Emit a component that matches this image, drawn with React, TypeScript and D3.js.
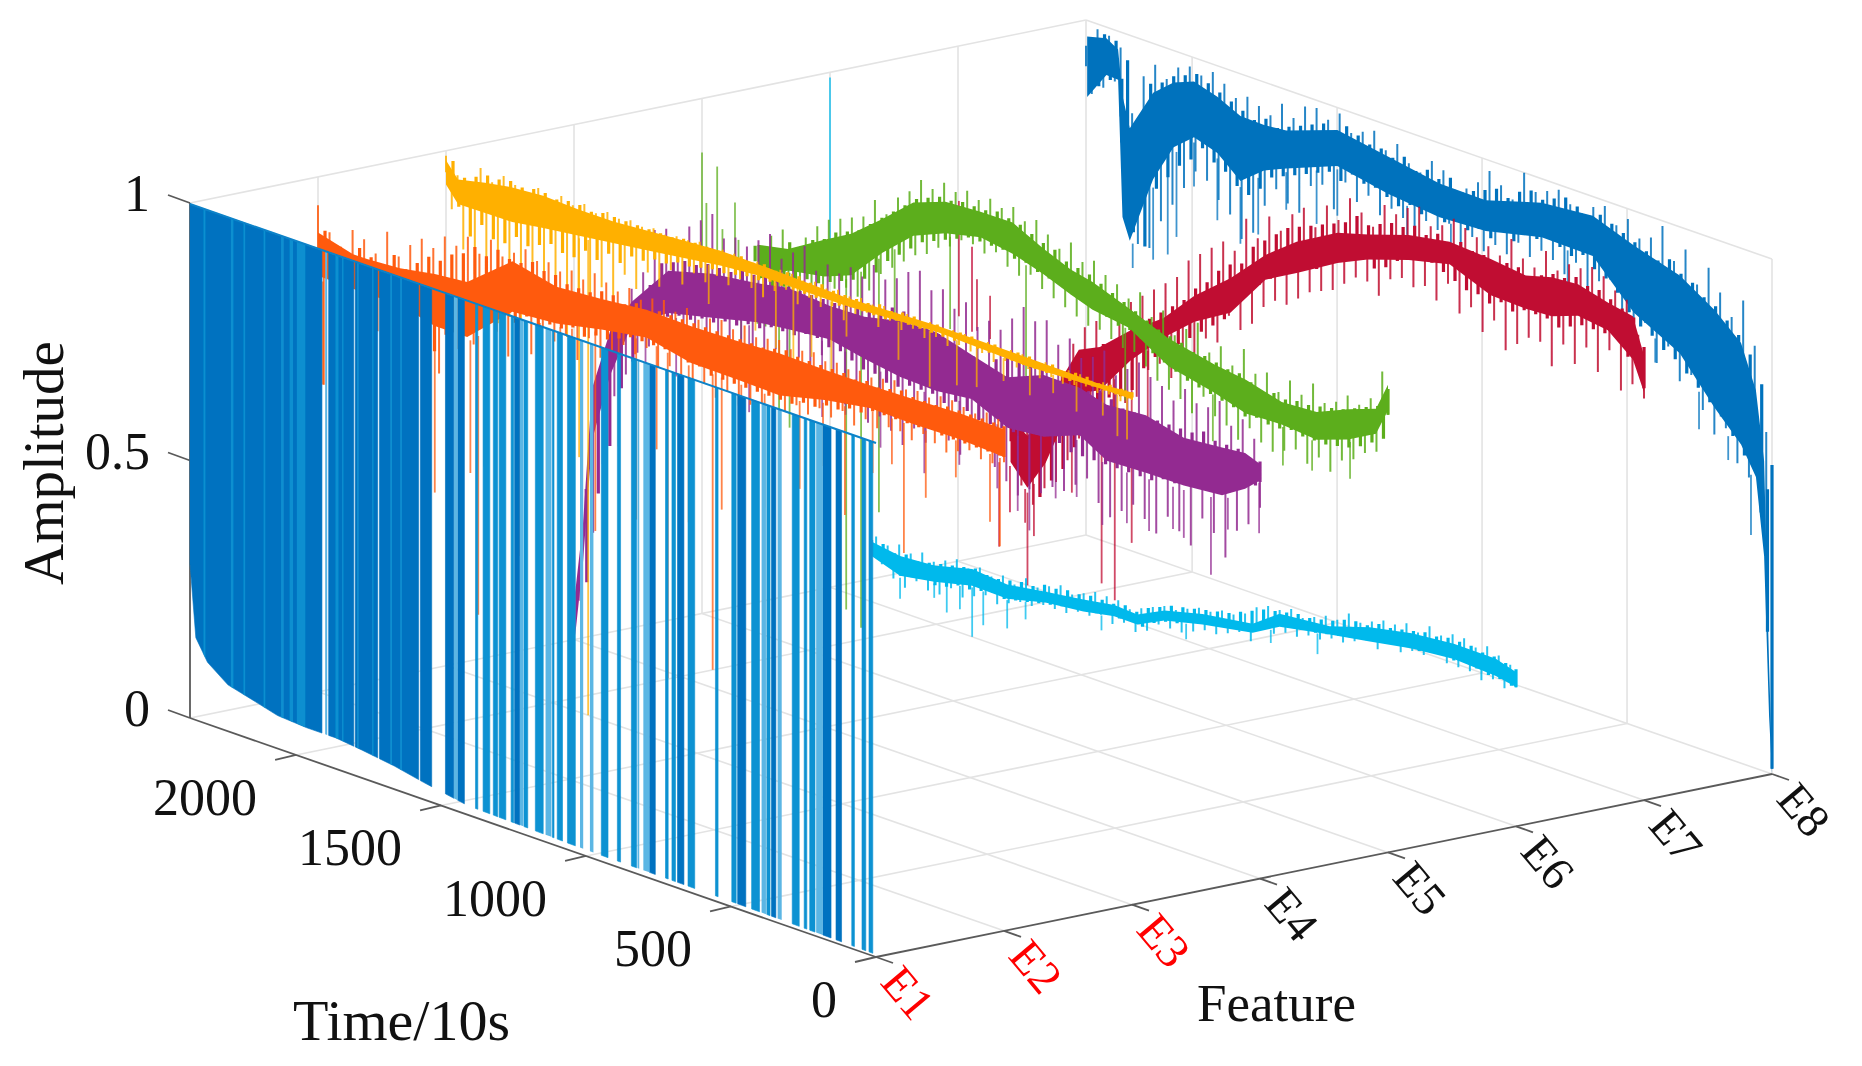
import React from 'react';
import * as d3 from 'd3';

// readings were taken against a 0..2350 run of the time axis, tick labels use 0..2366
const READ_MAX = 2350;
const AXIS_MAX = 2366;

const featureLabels = ['E1', 'E2', 'E3', 'E4', 'E5', 'E6', 'E7', 'E8'];
const featureLabelColors = ['#ff0000', '#ff0000', '#ff0000', '#111', '#111', '#111', '#111', '#111'];
const timeTicks = [0, 500, 1000, 1500, 2000];
const ampTicks = [0, 0.5, 1];

// E1: time ranges where the trace falls from 1 to the floor
const e1DarkRuns = [[1898, 2350], [1789, 1875], [1707, 1784], [1567, 1701], [1522, 1561], [1446, 1475], [1410, 1433], [1220, 1238], [756, 776], [658, 680], [446, 474], [343, 358], [154, 182], [118, 137]];
const e1MidRuns = [[1364, 1372], [1323, 1346], [1296, 1311], [1268, 1291], [1241, 1250], [1193, 1206], [1140, 1167], [1103, 1109], [1074, 1092], [1030, 1057], [918, 941], [875, 886], [820, 838], [712, 721], [687, 699], [621, 644], [541, 550], [479, 494], [399, 426], [363, 374], [263, 287], [237, 246], [209, 227], [74, 83], [35, 48], [11, 24]];
const e1LightRuns = [[1880, 1887], [1433, 1446], [1208, 1220], [1112, 1132], [1003, 1014], [968, 980], [811, 817], [776, 797], [377, 392], [323, 337], [182, 205]];
const e1Stripes = [[2297, 2304], [2201, 2210], [2161, 2167], [2092, 2098], [2029, 2038], [1997, 2009], [1955, 1984], [1841, 1852], [1824, 1829], [1772, 1778], [1721, 1726], [1658, 1664], [1624, 1630]];
const e1FloorTimes = [2350, 2330, 2290, 2220, 2140, 2050, 1950, 1850, 1760, 1650, 1550, 1400, 1000, 500, 0];
const e1Floor = [0.3, 0.16, 0.12, 0.09, 0.078, 0.064, 0.06, 0.06, 0.054, 0.045, 0.033, 0.018, 0.012, 0.01, 0.005];

const e2Times = [2350, 2230, 2182, 2069, 1950, 1839, 1684, 1533, 1379, 1225, 1074, 919, 768, 614, 460, 309, 154, 0];
const e2Upper = [0.9, 0.88, 0.88, 0.885, 0.9, 0.907, 0.977, 0.955, 0.96, 0.969, 0.969, 0.972, 0.977, 0.974, 0.973, 0.976, 0.98, 0.979];
const e2Lower = [0.8, 0.8, 0.8, 0.8, 0.78, 0.78, 0.86, 0.87, 0.89, 0.905, 0.884, 0.883, 0.88, 0.904, 0.92, 0.918, 0.92, 0.915];
const e2Tips = [
  0.945, 0.6, 0.9, 0.78, 0.88, 0.8, 0.92, 0.75, 0.91, 0.62,
  0.89, 0.7, 0.94, 0.62, 0.9, 0.78, 0.93, 0.7, 0.95, 0.64,
  0.94, 0.7, 0.97, 0.66, 0.96, 0.74, 0.985, 0.78, 0.96, 0.8,
  0.995, 0.82, 0.97, 0.78, 0.985, 0.84, 1, 0.8, 0.985, 0.86,
  0.99, 0.84, 0.98, 0.86, 0.99, 0.82, 0.98, 0.87, 1, 0.84,
  0.99, 0.86, 0.98, 0.88, 0.995, 0.87, 0.98, 0.89, 0.99, 0.86,
  0.995, 0.87, 0.98, 0.84, 0.995, 0.85, 0.98, 0.86, 0.99, 0.84,
  0.995, 0.86, 0.985, 0.84, 1, 0.85, 0.985, 0.86, 0.99, 0.83,
  0.995, 0.86, 0.985, 0.88, 0.99, 0.87, 0.995, 0.89, 0.985, 0.88,
  0.99, 0.9, 0.985, 0.88, 0.99, 0.9, 0.985, 0.89, 0.99, 0.9,
  0.995, 0.9, 0.985, 0.89, 0.99, 0.91, 0.985, 0.9, 0.995, 0.89,
  0.995, 0.9, 0.99, 0.91, 0.985, 0.9, 0.995, 0.9, 0.99, 0.91,
];
const e2Fine = [
  0.9, 0.72, 0.88, 0.8, 0.87, 0.82, 0.89, 0.78, 0.88, 0.74,
  0.87, 0.76, 0.9, 0.72, 0.88, 0.8, 0.9, 0.76, 0.92, 0.74,
  0.92, 0.78, 0.94, 0.76, 0.95, 0.8, 0.97, 0.84, 0.96, 0.84,
  0.98, 0.86, 0.97, 0.85, 0.97, 0.87, 0.98, 0.86, 0.97, 0.87,
  0.97, 0.87, 0.96, 0.88, 0.96, 0.87, 0.96, 0.88, 0.97, 0.88,
  0.97, 0.89, 0.96, 0.9, 0.97, 0.9, 0.96, 0.9, 0.97, 0.9,
  0.97, 0.9, 0.97, 0.89, 0.97, 0.89, 0.97, 0.88, 0.97, 0.88,
  0.97, 0.88, 0.97, 0.88, 0.97, 0.88, 0.97, 0.88, 0.975, 0.88,
  0.98, 0.88, 0.975, 0.89, 0.975, 0.89, 0.975, 0.9, 0.975, 0.9,
  0.975, 0.91, 0.97, 0.91, 0.975, 0.92, 0.97, 0.92, 0.975, 0.92,
  0.98, 0.92, 0.975, 0.92, 0.975, 0.925, 0.975, 0.92, 0.98, 0.92,
  0.98, 0.92, 0.98, 0.92, 0.98, 0.92, 0.98, 0.92, 0.98, 0.92,
];
const e2Dips = [[343, 0.666], [268, 0.788], [165, 0.848], [48, 0.785], [14, 0.744], [384, 0.83], [545, 0.7], [967, 0.627], [1152, 0.263], [998, 0.31], [1520, 0.318], [1880, 0.185], [1801, 0.258], [1950, 0.466], [1828, 0.528], [2333, 0.6], [1260, 0.55], [1400, 0.5], [1660, 0.4], [820, 0.66], [1080, 0.58], [700, 0.72], [1900, 0.5], [1780, 0.55], [1720, 0.62], [1590, 0.6], [1480, 0.66], [1320, 0.68], [1190, 0.7], [900, 0.74], [620, 0.78], [450, 0.8]];

const e3Times = [2350, 2309, 2216, 2123, 2017, 1894, 1774, 1650, 1527, 1407, 1283, 978, 669, 364, 120, 0];
const e3Upper = [0.986, 0.957, 0.97, 0.98, 0.984, 0.98, 0.98, 0.985, 0.99, 0.994, 0.993, 0.987, 0.994, 0.993, 0.99, 0.996];
const e3Lower = [0.93, 0.9, 0.9, 0.9, 0.91, 0.92, 0.93, 0.94, 0.95, 0.96, 0.967, 0.968, 0.979, 0.973, 0.98, 0.98];
const e3Tips = [
  0.99, 0.89, 0.96, 0.82, 0.94, 0.78, 0.99, 0.74, 0.97, 0.7,
  0.99, 0.72, 0.98, 0.7, 0.96, 0.78, 0.99, 0.76, 0.97, 0.74,
  0.99, 0.72, 0.98, 0.8, 0.99, 0.76, 0.98, 0.84, 0.99, 0.8,
  0.985, 0.88, 0.99, 0.86, 0.985, 0.9, 0.99, 0.88, 0.985, 0.92,
  0.99, 0.9, 0.99, 0.93, 0.995, 0.92, 0.99, 0.94, 0.995, 0.93,
  0.995, 0.95, 0.99, 0.94, 0.995, 0.93, 0.99, 0.95, 0.995, 0.96,
  0.995, 0.94, 0.99, 0.96, 0.995, 0.95, 0.99, 0.96, 0.995, 0.94,
  0.99, 0.96, 0.995, 0.97, 0.99, 0.95, 0.995, 0.97, 0.99, 0.96,
  0.995, 0.97, 0.99, 0.96, 0.995, 0.97, 0.99, 0.96, 0.995, 0.97,
  0.995, 0.965, 0.99, 0.97, 0.995, 0.96, 0.99, 0.97, 0.995, 0.965,
  0.995, 0.97, 0.99, 0.96, 0.995, 0.97, 0.99, 0.965, 0.995, 0.97,
  0.995, 0.975, 0.99, 0.97, 0.995, 0.975, 0.99, 0.97, 0.995, 0.98,
];
const e3Fine = [
  0.985, 0.9, 0.96, 0.85, 0.97, 0.88, 0.98, 0.86, 0.98, 0.86,
  0.985, 0.88, 0.98, 0.87, 0.985, 0.88, 0.985, 0.89, 0.98, 0.88,
  0.985, 0.88, 0.985, 0.9, 0.98, 0.89, 0.985, 0.91, 0.985, 0.9,
  0.985, 0.92, 0.985, 0.92, 0.985, 0.93, 0.985, 0.93, 0.985, 0.94,
  0.99, 0.94, 0.99, 0.945, 0.99, 0.95, 0.99, 0.95, 0.99, 0.955,
  0.995, 0.96, 0.99, 0.96, 0.995, 0.965, 0.99, 0.965, 0.995, 0.965,
  0.995, 0.965, 0.99, 0.965, 0.995, 0.97, 0.99, 0.965, 0.99, 0.97,
  0.99, 0.97, 0.99, 0.97, 0.995, 0.97, 0.99, 0.975, 0.995, 0.975,
  0.995, 0.975, 0.99, 0.975, 0.995, 0.975, 0.99, 0.975, 0.995, 0.98,
  0.995, 0.975, 0.99, 0.975, 0.995, 0.98, 0.99, 0.975, 0.995, 0.975,
  0.995, 0.975, 0.99, 0.975, 0.995, 0.98, 0.99, 0.975, 0.995, 0.98,
  0.995, 0.98, 0.99, 0.98, 0.995, 0.98, 0.995, 0.98, 0.995, 0.985,
];
const e3Dips = [[1863, 0], [1894, 0.495], [1160, 0.815], [693, 0.869], [532, 0.9], [350, 0.92], [978, 0.91], [1098, 0.847], [1290, 0.86], [1450, 0.88], [1030, 0.83], [1220, 0.84], [800, 0.9], [600, 0.89], [440, 0.93], [270, 0.94], [190, 0.92], [100, 0.93], [50, 0.9], [17, 0.9]];

const e4Times = [2346, 2319, 2288, 2226, 2151, 2027, 1877, 1722, 1616, 1475, 1355, 1232, 1108, 988, 865, 741, 618, 525, 391, 261, 130, 51, 0];
const e4Upper = [0.1, 0.24, 0.51, 0.632, 0.7, 0.788, 0.812, 0.823, 0.836, 0.827, 0.831, 0.85, 0.853, 0.83, 0.812, 0.843, 0.84, 0.827, 0.833, 0.813, 0.82, 0.823, 0.808];
const e4Lower = [0, 0.15, 0.39, 0.53, 0.648, 0.69, 0.71, 0.733, 0.74, 0.75, 0.734, 0.72, 0.717, 0.728, 0.695, 0.7, 0.73, 0.697, 0.7, 0.703, 0.71, 0.74, 0.77];
const e4Tips = [
  0.05, 0.1, 0.3, 0.2, 0.52, 0.36, 0.6, 0.5, 0.66, 0.55,
  0.72, 0.6, 0.76, 0.62, 0.85, 0.66, 0.86, 0.68, 0.84, 0.66,
  0.88, 0.64, 0.9, 0.66, 0.92, 0.66, 0.88, 0.68, 0.89, 0.67,
  0.88, 0.68, 0.9, 0.66, 0.92, 0.7, 0.88, 0.66, 0.9, 0.7,
  0.92, 0.68, 0.88, 0.72, 0.9, 0.68, 0.89, 0.64, 0.91, 0.66,
  0.9, 0.62, 0.93, 0.64, 0.91, 0.62, 0.92, 0.6, 0.94, 0.64,
  0.95, 0.62, 0.92, 0.66, 0.93, 0.64, 0.9, 0.62, 0.92, 0.66,
  0.88, 0.66, 0.9, 0.62, 0.89, 0.6, 0.92, 0.58, 0.95, 0.6,
  0.93, 0.6, 0.94, 0.62, 0.9, 0.62, 0.92, 0.64, 0.89, 0.66,
  0.9, 0.62, 0.92, 0.6, 0.88, 0.62, 0.9, 0.64, 0.92, 0.62,
  0.9, 0.6, 0.89, 0.64, 0.87, 0.62, 0.9, 0.6, 0.88, 0.66,
  0.88, 0.64, 0.9, 0.6, 0.86, 0.66, 0.88, 0.68, 0.85, 0.72,
];
const e4Fine = [
  0.08, 0.12, 0.22, 0.3, 0.48, 0.4, 0.58, 0.52, 0.64, 0.58,
  0.69, 0.64, 0.74, 0.66, 0.79, 0.69, 0.8, 0.7, 0.81, 0.7,
  0.81, 0.71, 0.82, 0.71, 0.82, 0.72, 0.82, 0.72, 0.83, 0.73,
  0.83, 0.73, 0.84, 0.74, 0.84, 0.74, 0.83, 0.74, 0.83, 0.75,
  0.83, 0.75, 0.83, 0.74, 0.83, 0.74, 0.84, 0.73, 0.84, 0.72,
  0.85, 0.72, 0.85, 0.71, 0.86, 0.71, 0.86, 0.72, 0.85, 0.72,
  0.85, 0.72, 0.84, 0.71, 0.83, 0.72, 0.82, 0.71, 0.82, 0.7,
  0.81, 0.7, 0.83, 0.7, 0.84, 0.7, 0.84, 0.71, 0.84, 0.72,
  0.84, 0.72, 0.83, 0.71, 0.83, 0.7, 0.83, 0.7, 0.83, 0.7,
  0.84, 0.7, 0.83, 0.7, 0.82, 0.7, 0.82, 0.7, 0.81, 0.7,
  0.82, 0.71, 0.82, 0.71, 0.82, 0.72, 0.82, 0.72, 0.83, 0.74,
  0.82, 0.74, 0.82, 0.74, 0.82, 0.75, 0.81, 0.76, 0.81, 0.77,
];
const e4Dips = [[3, 0.67], [168, 0.557], [261, 0.61], [298, 0.62], [456, 0.6], [628, 0.617], [110, 0.656], [700, 0.6], [900, 0.58], [1150, 0.56], [1300, 0.58], [1500, 0.6], [1750, 0.56], [2000, 0.58], [790, 0.52], [2105, 0.4], [380, 0.6], [540, 0.58], [830, 0.55], [1030, 0.6], [1420, 0.62]];

const e5Times = [2160, 2055, 1931, 1839, 1732, 1626, 1516, 1396, 1286, 1180, 1087, 1012, 888, 751, 593, 487, 364, 244, 137, 41, 0];
const e5Upper = [0.76, 0.77, 0.815, 0.846, 0.894, 0.947, 0.97, 0.973, 0.975, 0.944, 0.922, 0.913, 0.885, 0.855, 0.835, 0.828, 0.807, 0.812, 0.839, 0.858, 0.913];
const e5Lower = [0.68, 0.72, 0.73, 0.75, 0.816, 0.87, 0.897, 0.914, 0.903, 0.885, 0.864, 0.849, 0.84, 0.79, 0.77, 0.75, 0.755, 0.748, 0.769, 0.8, 0.854];
const e5Tips = [
  0.895, 0.71, 0.8, 0.72, 0.88, 0.72, 0.76, 0.71, 0.82, 0.68,
  0.74, 0.6, 0.78, 0.62, 0.8, 0.66, 0.77, 0.68, 0.8, 0.7,
  0.83, 0.7, 0.85, 0.72, 0.86, 0.73, 0.87, 0.72, 0.88, 0.74,
  0.92, 0.78, 0.9, 0.8, 0.94, 0.82, 0.96, 0.84, 0.99, 0.85,
  0.98, 0.87, 1, 0.88, 0.99, 0.9, 1, 0.9, 0.99, 0.89,
  1, 0.9, 0.99, 0.88, 1, 0.87, 0.98, 0.88, 0.99, 0.86,
  0.97, 0.85, 0.95, 0.84, 0.97, 0.83, 0.94, 0.82, 0.95, 0.82,
  0.93, 0.81, 0.92, 0.8, 0.9, 0.8, 0.92, 0.78, 0.88, 0.76,
  0.9, 0.75, 0.86, 0.74, 0.88, 0.72, 0.9, 0.76, 0.85, 0.73,
  0.87, 0.72, 0.84, 0.7, 0.88, 0.73, 0.84, 0.71, 0.85, 0.7,
  0.82, 0.71, 0.85, 0.72, 0.83, 0.7, 0.86, 0.72, 0.83, 0.7,
  0.84, 0.73, 0.86, 0.74, 0.85, 0.76, 0.87, 0.77, 0.93, 0.85,
];
const e5Fine = [
  0.8, 0.72, 0.78, 0.72, 0.79, 0.71, 0.76, 0.71, 0.75, 0.7,
  0.74, 0.68, 0.76, 0.69, 0.78, 0.71, 0.78, 0.72, 0.8, 0.72,
  0.81, 0.73, 0.83, 0.74, 0.84, 0.75, 0.85, 0.76, 0.87, 0.78,
  0.89, 0.81, 0.91, 0.83, 0.93, 0.85, 0.95, 0.87, 0.96, 0.88,
  0.97, 0.89, 0.97, 0.9, 0.975, 0.91, 0.975, 0.91, 0.975, 0.91,
  0.98, 0.91, 0.975, 0.9, 0.97, 0.9, 0.96, 0.89, 0.95, 0.885,
  0.945, 0.88, 0.93, 0.87, 0.925, 0.865, 0.92, 0.855, 0.91, 0.85,
  0.9, 0.84, 0.89, 0.84, 0.88, 0.83, 0.87, 0.81, 0.86, 0.8,
  0.855, 0.79, 0.85, 0.78, 0.84, 0.775, 0.84, 0.77, 0.835, 0.765,
  0.83, 0.76, 0.83, 0.75, 0.82, 0.755, 0.81, 0.75, 0.815, 0.75,
  0.81, 0.755, 0.815, 0.75, 0.815, 0.75, 0.82, 0.75, 0.825, 0.755,
  0.83, 0.76, 0.84, 0.77, 0.85, 0.785, 0.86, 0.8, 0.9, 0.85,
];
const e5Dips = [[2350, 0.895, 0.71], [2335, 0.8, 0.71], [2298, 0.878, 0.716], [2280, 0.76, 0.71], [2237, 0.82, 0.715], [2225, 0.75, 0.7], [2216, 0.7, 0.48], [2160, 0.6], [2086, 0.34], [2050, 0.42], [1856, 0.105], [1805, 0.08], [1744, 0.316], [1690, 0.6], [1500, 0.72], [1240, 0.68], [900, 0.7], [600, 0.68], [360, 0.68], [260, 0.69], [130, 0.7]];

const e6Times = [2215, 2110, 1993, 1863, 1743, 1612, 1482, 1376, 1297, 1204, 1074, 902, 810, 638, 501, 357, 213, 69, 3];
const e6Upper = [0.12, 0.112, 0.116, 0.135, 0.128, 0.139, 0.15, 0.16, 0.157, 0.183, 0.202, 0.217, 0.255, 0.264, 0.29, 0.307, 0.315, 0.315, 0.303];
const e6Lower = [0.088, 0.066, 0.078, 0.096, 0.095, 0.114, 0.122, 0.134, 0.134, 0.16, 0.178, 0.196, 0.225, 0.245, 0.257, 0.272, 0.28, 0.275, 0.268];
const e6Tips = [
  0.99, 0.3, 0.16, 0.1, 0.15, 0.09, 0.14, 0.08, 0.13, 0.08,
  0.12, 0.06, 0.13, 0.05, 0.12, 0.07, 0.13, 0.06, 0.12, 0.06,
  0.13, 0.08, 0.14, 0.07, 0.13, 0.08, 0.14, 0.09, 0.13, 0.08,
  0.14, 0.09, 0.13, 0.1, 0.15, 0.1, 0.14, 0.11, 0.15, 0.11,
  0.16, 0.11, 0.15, 0.12, 0.16, 0.12, 0.17, 0.13, 0.17, 0.12,
  0.17, 0.13, 0.16, 0.12, 0.17, 0.13, 0.18, 0.15, 0.19, 0.15,
  0.19, 0.15, 0.2, 0.16, 0.21, 0.17, 0.21, 0.17, 0.22, 0.18,
  0.22, 0.19, 0.23, 0.18, 0.25, 0.21, 0.26, 0.21, 0.26, 0.22,
  0.27, 0.22, 0.26, 0.23, 0.27, 0.23, 0.28, 0.24, 0.28, 0.24,
  0.3, 0.25, 0.29, 0.26, 0.3, 0.25, 0.31, 0.27, 0.31, 0.26,
  0.32, 0.27, 0.31, 0.27, 0.33, 0.28, 0.32, 0.27, 0.33, 0.27,
  0.33, 0.27, 0.32, 0.26, 0.33, 0.27, 0.32, 0.26, 0.31, 0.27,
];
const e6Fine = [
  0.13, 0.1, 0.13, 0.1, 0.12, 0.09, 0.12, 0.09, 0.12, 0.085,
  0.11, 0.07, 0.115, 0.075, 0.11, 0.08, 0.115, 0.075, 0.12, 0.08,
  0.125, 0.09, 0.13, 0.09, 0.135, 0.095, 0.13, 0.1, 0.13, 0.095,
  0.135, 0.1, 0.14, 0.105, 0.14, 0.11, 0.15, 0.115, 0.15, 0.12,
  0.155, 0.125, 0.155, 0.13, 0.16, 0.13, 0.16, 0.135, 0.16, 0.135,
  0.165, 0.14, 0.16, 0.135, 0.175, 0.15, 0.185, 0.16, 0.195, 0.165,
  0.2, 0.175, 0.205, 0.18, 0.21, 0.185, 0.215, 0.19, 0.22, 0.195,
  0.23, 0.2, 0.24, 0.21, 0.25, 0.225, 0.255, 0.23, 0.26, 0.235,
  0.265, 0.24, 0.265, 0.24, 0.27, 0.245, 0.275, 0.25, 0.285, 0.255,
  0.29, 0.26, 0.29, 0.265, 0.3, 0.27, 0.3, 0.275, 0.305, 0.28,
  0.31, 0.275, 0.315, 0.28, 0.315, 0.285, 0.32, 0.28, 0.32, 0.285,
  0.32, 0.28, 0.315, 0.275, 0.315, 0.275, 0.31, 0.27, 0.305, 0.27,
];
const e6Dips = [[2350, 0.99, 0.6], [2110, 0.025], [1993, 0.05], [1863, 0], [1825, 0.03], [1743, 0.04], [1950, 0.03], [1905, 0.045], [1680, 0.07], [1420, 0.1], [1130, 0.14], [840, 0.19], [680, 0.2]];

const e7Times = [2170, 2112, 2050, 1990, 1936, 1864, 1760, 1647, 1540, 1417, 1297, 1190, 1050, 947, 806, 666, 525, 405, 316, 226, 124, 38, 0];
const e7Upper = [0.32, 0.3, 0.36, 0.44, 0.5, 0.52, 0.57, 0.614, 0.68, 0.74, 0.807, 0.855, 0.9, 0.916, 0.943, 0.957, 0.954, 0.945, 0.96, 0.963, 0.947, 0.94, 0.87];
const e7Lower = [0.22, 0.18, 0.24, 0.33, 0.4, 0.42, 0.5, 0.569, 0.62, 0.66, 0.75, 0.783, 0.83, 0.858, 0.885, 0.905, 0.87, 0.868, 0.87, 0.89, 0.883, 0.84, 0.785];
const e7Tips = [
  0.7, 0.5, 0.62, 0.46, 0.55, 0.44, 0.54, 0.3, 0.36, 0.2,
  0.34, 0.19, 0.33, 0.16, 0.37, 0.2, 0.4, 0.22, 0.44, 0.27,
  0.5, 0.32, 0.54, 0.36, 0.56, 0.4, 0.52, 0.38, 0.58, 0.42,
  0.62, 0.44, 0.64, 0.5, 0.66, 0.52, 0.68, 0.5, 0.7, 0.55,
  0.74, 0.56, 0.76, 0.6, 0.78, 0.6, 0.8, 0.66, 0.79, 0.64,
  0.86, 0.66, 0.83, 0.7, 0.88, 0.72, 0.86, 0.72, 0.9, 0.74,
  0.92, 0.76, 0.89, 0.77, 0.94, 0.78, 0.92, 0.8, 0.97, 0.82,
  0.95, 0.82, 0.93, 0.8, 0.98, 0.84, 0.97, 0.85, 0.99, 0.84,
  1, 0.85, 0.97, 0.83, 0.98, 0.87, 1, 0.82, 0.99, 0.84,
  0.98, 0.8, 0.97, 0.83, 0.96, 0.78, 1, 0.8, 0.97, 0.82,
  0.96, 0.82, 1, 0.78, 0.97, 0.83, 0.99, 0.8, 0.99, 0.84,
  1, 0.8, 0.99, 0.85, 0.97, 0.78, 0.96, 0.8, 0.9, 0.78,
];
const e7Fine = [
  0.5, 0.46, 0.48, 0.44, 0.46, 0.42, 0.4, 0.3, 0.32, 0.22,
  0.32, 0.2, 0.31, 0.18, 0.34, 0.22, 0.38, 0.25, 0.42, 0.3,
  0.47, 0.35, 0.5, 0.38, 0.52, 0.42, 0.53, 0.43, 0.55, 0.45,
  0.58, 0.5, 0.6, 0.53, 0.62, 0.56, 0.64, 0.57, 0.66, 0.59,
  0.69, 0.61, 0.71, 0.63, 0.74, 0.65, 0.76, 0.69, 0.77, 0.72,
  0.81, 0.74, 0.83, 0.76, 0.85, 0.78, 0.87, 0.79, 0.88, 0.8,
  0.89, 0.81, 0.9, 0.83, 0.91, 0.84, 0.92, 0.85, 0.94, 0.86,
  0.93, 0.85, 0.94, 0.86, 0.95, 0.88, 0.95, 0.89, 0.96, 0.9,
  0.95, 0.9, 0.96, 0.89, 0.95, 0.88, 0.96, 0.87, 0.95, 0.87,
  0.95, 0.86, 0.94, 0.87, 0.95, 0.86, 0.95, 0.87, 0.94, 0.87,
  0.95, 0.87, 0.96, 0.86, 0.96, 0.87, 0.97, 0.88, 0.96, 0.88,
  0.96, 0.88, 0.95, 0.88, 0.94, 0.85, 0.93, 0.84, 0.88, 0.8,
];
const e7Dips = [[2347, 0.7, 0.476], [2302, 0.62, 0.455], [2285, 0.56, 0.46], [2240, 0.537, 0.453], [2209, 0.056], [2112, 0], [1858, 0.054], [1813, 0.03], [1755, 0.153], [2090, 0.1], [1960, 0.21], [1700, 0.35], [2172, 0.13], [2120, 0.12]];

const e8Times = [2346, 2280, 2240, 2225, 2200, 2120, 2050, 1980, 1900, 1821, 1740, 1664, 1489, 1314, 1139, 981, 789, 614, 473, 316, 196, 106, 55, 27, 10, 0];
const e8Upper = [0.98, 0.985, 0.97, 0.9, 0.84, 0.92, 0.95, 0.964, 0.95, 0.93, 0.925, 0.928, 0.963, 0.946, 0.928, 0.926, 0.96, 0.97, 0.945, 0.92, 0.88, 0.835, 0.75, 0.62, 0.22, 0.02];
const e8Lower = [0.84, 0.9, 0.9, 0.62, 0.58, 0.72, 0.8, 0.835, 0.82, 0.78, 0.82, 0.84, 0.88, 0.86, 0.85, 0.855, 0.88, 0.877, 0.79, 0.74, 0.654, 0.6, 0.55, 0.4, 0.1, 0];
const e8Tips = [
  0.95, 0.86, 0.99, 0.88, 0.985, 0.9, 0.97, 0.7, 0.85, 0.6,
  0.93, 0.6, 0.96, 0.66, 0.94, 0.7, 0.97, 0.74, 0.98, 0.78,
  0.97, 0.77, 0.985, 0.74, 0.97, 0.72, 0.95, 0.68, 0.96, 0.7,
  0.95, 0.76, 0.94, 0.8, 0.97, 0.78, 0.95, 0.77, 0.98, 0.83,
  0.985, 0.84, 0.97, 0.8, 0.99, 0.86, 0.96, 0.83, 0.97, 0.85,
  0.98, 0.82, 0.95, 0.84, 0.97, 0.83, 0.94, 0.82, 0.93, 0.84,
  0.96, 0.83, 0.95, 0.85, 0.92, 0.8, 0.93, 0.84, 0.95, 0.82,
  0.98, 0.84, 0.96, 0.83, 0.94, 0.86, 1, 0.84, 0.97, 0.86,
  0.98, 0.85, 0.99, 0.83, 0.97, 0.86, 0.96, 0.82, 0.98, 0.84,
  0.99, 0.85, 0.96, 0.8, 0.98, 0.76, 0.95, 0.79, 0.96, 0.72,
  0.99, 0.76, 0.93, 0.7, 0.96, 0.72, 0.9, 0.66, 0.94, 0.62,
  0.9, 0.64, 0.86, 0.58, 0.9, 0.56, 0.82, 0.5, 0.66, 0.02,
];
const e8Fine = [
  0.97, 0.88, 0.985, 0.9, 0.98, 0.91, 0.95, 0.62, 0.84, 0.6,
  0.92, 0.72, 0.93, 0.75, 0.95, 0.78, 0.96, 0.8, 0.97, 0.83,
  0.96, 0.81, 0.95, 0.8, 0.94, 0.78, 0.93, 0.77, 0.92, 0.79,
  0.93, 0.82, 0.92, 0.83, 0.93, 0.84, 0.94, 0.85, 0.95, 0.86,
  0.96, 0.87, 0.95, 0.86, 0.97, 0.88, 0.96, 0.87, 0.95, 0.87,
  0.95, 0.86, 0.94, 0.85, 0.95, 0.86, 0.93, 0.85, 0.94, 0.86,
  0.93, 0.85, 0.94, 0.86, 0.92, 0.85, 0.93, 0.86, 0.94, 0.85,
  0.95, 0.87, 0.94, 0.86, 0.96, 0.88, 0.97, 0.88, 0.96, 0.89,
  0.97, 0.88, 0.98, 0.87, 0.97, 0.88, 0.96, 0.86, 0.97, 0.85,
  0.96, 0.83, 0.95, 0.8, 0.94, 0.78, 0.93, 0.77, 0.92, 0.75,
  0.93, 0.74, 0.91, 0.72, 0.9, 0.7, 0.88, 0.68, 0.87, 0.66,
  0.85, 0.63, 0.83, 0.6, 0.8, 0.58, 0.75, 0.55, 0.6, 0.3,
];
const e8Dips = [[2190, 0.55], [2120, 0.58], [2070, 0.6], [1980, 0.75], [1821, 0.67], [1900, 0.7], [1664, 0.767], [1489, 0.79], [1250, 0.8], [72, 0.45], [250, 0.62], [400, 0.72], [150, 0.58], [2040, 0.64], [1760, 0.7], [1560, 0.76], [1100, 0.8], [700, 0.8]];

const seriesList = [
  { feature: 8, color: '#0072bd', from: READ_MAX, times: e8Times, upper: e8Upper, lower: e8Lower, tips: e8Tips, fine: e8Fine, dips: e8Dips },
  { feature: 7, color: '#c00a30', from: 2170, times: e7Times, upper: e7Upper, lower: e7Lower, tips: e7Tips, fine: e7Fine, dips: e7Dips },
  { feature: 6, color: '#00b9ec', from: 2212, times: e6Times, upper: e6Upper, lower: e6Lower, tips: e6Tips, fine: e6Fine, dips: e6Dips },
  { feature: 5, color: '#5bae1a', from: 2170, times: e5Times, upper: e5Upper, lower: e5Lower, tips: e5Tips, fine: e5Fine, dips: e5Dips },
  { feature: 4, color: '#932b91', from: READ_MAX, times: e4Times, upper: e4Upper, lower: e4Lower, tips: e4Tips, fine: e4Fine, dips: e4Dips },
  { feature: 3, color: '#ffb000', from: READ_MAX, times: e3Times, upper: e3Upper, lower: e3Lower, tips: e3Tips, fine: e3Fine, dips: e3Dips },
  { feature: 2, color: '#ff5a0c', from: READ_MAX, times: e2Times, upper: e2Upper, lower: e2Lower, tips: e2Tips, fine: e2Fine, dips: e2Dips },
];

const originX = 876;
const originY = 957;

// oblique projection: every axis is a plain linear scale in pixels
const xByFeature = d3.scaleLinear([1, 8], [0, 896]);
const yByFeature = d3.scaleLinear([1, 8], [0, -183]);
const xByTime = d3.scaleLinear([0, AXIS_MAX], [0, -686]);
const yByTime = d3.scaleLinear([0, AXIS_MAX], [0, -239]);
const yByAmp = d3.scaleLinear([0, 1], [0, -515]);
const readToAxis = d3.scaleLinear([0, READ_MAX], [0, AXIS_MAX]);

const px = (feature: number, time: number) => originX + xByFeature(feature) + xByTime(time);
const py = (feature: number, time: number, amp: number) =>
  originY + yByFeature(feature) + yByTime(time) + yByAmp(amp);

const seg = (a: number[], b: number[]) => `M${a[0]},${a[1]}L${b[0]},${b[1]}`;
const pt = (feature: number, time: number, amp: number) => [px(feature, time), py(feature, time, amp)];

const e1FloorAt = d3.scaleLinear(e1FloorTimes, e1Floor);

function runPath(run: number[]) {
  const inner = e1FloorTimes.filter(t => t < run[1] && t > run[0]);
  const ts = [run[1], ...inner, run[0]];
  const area = d3.area<number>()
    .x(t => px(1, readToAxis(t)))
    .y0(t => py(1, readToAxis(t), e1FloorAt(t)))
    .y1(t => py(1, readToAxis(t), 0.998));
  return area(ts) as string;
}

const Trace = ({ s }: { s: typeof seriesList[number] }) => {
  // the solid middle of the band; its rough edges come from the sticks on top
  const inset = 0.08;
  const core = d3.area<number>()
    .x((_, i) => px(s.feature, readToAxis(s.times[i])))
    .y0((_, i) => py(s.feature, readToAxis(s.times[i]), s.lower[i] + inset * (s.upper[i] - s.lower[i])))
    .y1((_, i) => py(s.feature, readToAxis(s.times[i]), s.upper[i] - inset * (s.upper[i] - s.lower[i])));
  const tipTime = d3.scaleLinear([0, s.tips.length - 1], [READ_MAX, 0]);
  const coreLow = d3.scaleLinear(s.times, s.lower).clamp(true);
  const coreHigh = d3.scaleLinear(s.times, s.upper).clamp(true);

  // every reading is a vertical stick from the middle of the band to its tip
  const sticks = (values: number[], shift: number) => {
    const p = d3.path();
    values.forEach((v, i) => {
      const t = Math.max(0, tipTime(i) - shift);
      if (t > s.from) return;
      const a = pt(s.feature, readToAxis(t), (coreLow(t) + coreHigh(t)) / 2);
      const b = pt(s.feature, readToAxis(t), v);
      p.moveTo(a[0], a[1]);
      p.lineTo(b[0], b[1]);
    });
    return p.toString();
  };

  return (
    <g>
      {s.dips.map((d, i) => (
        <path key={i} d={seg(pt(s.feature, readToAxis(d[0]), d[2] ?? coreLow(d[0])), pt(s.feature, readToAxis(d[0]), d[1]))}
          stroke={s.color} strokeWidth={1.8} strokeOpacity={0.75} fill="none" />
      ))}
      <path d={sticks(s.tips, 0)} fill="none" stroke={s.color} strokeWidth={2} strokeOpacity={0.85} />
      <path d={sticks(s.fine, 24)} fill="none" stroke={s.color} strokeWidth={3.2} />
      <path d={core(s.times) as string} fill={s.color} />
    </g>
  );
};

export default function App() {
  const gridColor = '#e3e3e3';
  const axisColor = '#5a5a5a';
  const font = '"Liberation Serif", "Times New Roman", serif';
  const tMax = AXIS_MAX;
  return (
    <svg width={1862} height={1066} style={{ position: 'absolute', left: 0, top: 0, background: '#fff' }}>
      <defs>
        <filter id="soft" x="-5%" y="-5%" width="110%" height="110%">
          <feGaussianBlur stdDeviation="0.55" />
        </filter>
      </defs>
      <g filter="url(#soft)">
        {/* floor grid and walls */}
        <g fill="none" stroke={gridColor} strokeWidth={1.6}>
          {featureLabels.map((_, i) => (
            <g key={i}>
              {i > 0 && <path d={seg(pt(i + 1, 0, 0), pt(i + 1, tMax, 0))} />}
              {i > 0 && <path d={seg(pt(i + 1, tMax, 0), pt(i + 1, tMax, 1))} />}
            </g>
          ))}
          {timeTicks.map(t => (
            <g key={t}>
              {t > 0 && <path d={seg(pt(1, t, 0), pt(8, t, 0))} />}
              <path d={seg(pt(8, t, 0), pt(8, t, 1))} />
            </g>
          ))}
          <path d={seg(pt(1, tMax, 0), pt(8, tMax, 0))} />
          <path d={seg(pt(1, tMax, 1), pt(8, tMax, 1))} />
          <path d={seg(pt(8, tMax, 1), pt(8, 0, 1))} />
        </g>

        {/* axes and ticks */}
        <g fill="none" stroke={axisColor} strokeWidth={1.8}>
          <path d={seg(pt(1, 0, 0), pt(8, 0, 0))} />
          <path d={seg(pt(1, 0, 0), pt(1, tMax, 0))} />
          <path d={seg(pt(1, tMax, 0), pt(1, tMax, 1))} />
          {ampTicks.map(a => {
            const p = pt(1, tMax, a);
            return <path key={a} d={seg(p, [p[0] - 22, p[1] - 8])} />;
          })}
          {timeTicks.map(t => {
            const p = pt(1, t, 0);
            return <path key={t} d={seg(p, [p[0] - 21, p[1] + 5])} />;
          })}
          {featureLabels.map((_, i) => {
            const p = pt(i + 1, 0, 0);
            return <path key={i} d={seg(p, [p[0] + 17, p[1] + 6])} />;
          })}
        </g>

        {seriesList.map(s => <Trace key={s.feature} s={s} />)}

        {/* E1 is so spiky it reads as a curtain of bars */}
        <g>
          {e1DarkRuns.map((r, i) => <path key={i} d={runPath(r)} fill="#0072c0" stroke="#0072c0" strokeWidth={0.6} />)}
          {e1MidRuns.map((r, i) => <path key={i} d={runPath(r)} fill="#0a92d2" stroke="#0a92d2" strokeWidth={0.6} />)}
          {e1LightRuns.map((r, i) => <path key={i} d={runPath(r)} fill="#5cb6e4" />)}
          {e1Stripes.map((r, i) => <path key={i} d={runPath(r)} fill="#0a8fd0" />)}
          <path d={seg(pt(1, 0, 0.998), pt(1, tMax, 0.998))} stroke="#0a82c8" strokeWidth={2} fill="none" />
        </g>
      </g>

      {/* labels */}
      <g fontFamily={font} fill="#111" style={{ filter: 'blur(0.4px)' }}>
        {ampTicks.map(a => (
          <text key={a} x={150} y={py(1, tMax, a) + 8} textAnchor="end" fontSize={52}>{a}</text>
        ))}
        {timeTicks.map(t => {
          const p = pt(1, t, 0);
          return <text key={t} x={p[0] - 39} y={p[1] + 60} textAnchor="end" fontSize={52}>{t}</text>;
        })}
        {featureLabels.map((label, i) => {
          const p = pt(i + 1, 0, 0);
          return (
            <text key={label} transform={`translate(${p[0] + 3},${p[1] + 26}) rotate(50)`}
              fontSize={47} fill={featureLabelColors[i]}>{label}</text>
          );
        })}
        <text transform="translate(63,463) rotate(-90)" textAnchor="middle" fontSize={57}>Amplitude</text>
        <text x={293} y={1040} fontSize={58}>Time/10s</text>
        <text x={1197} y={1021} fontSize={53}>Feature</text>
      </g>
    </svg>
  );
}
